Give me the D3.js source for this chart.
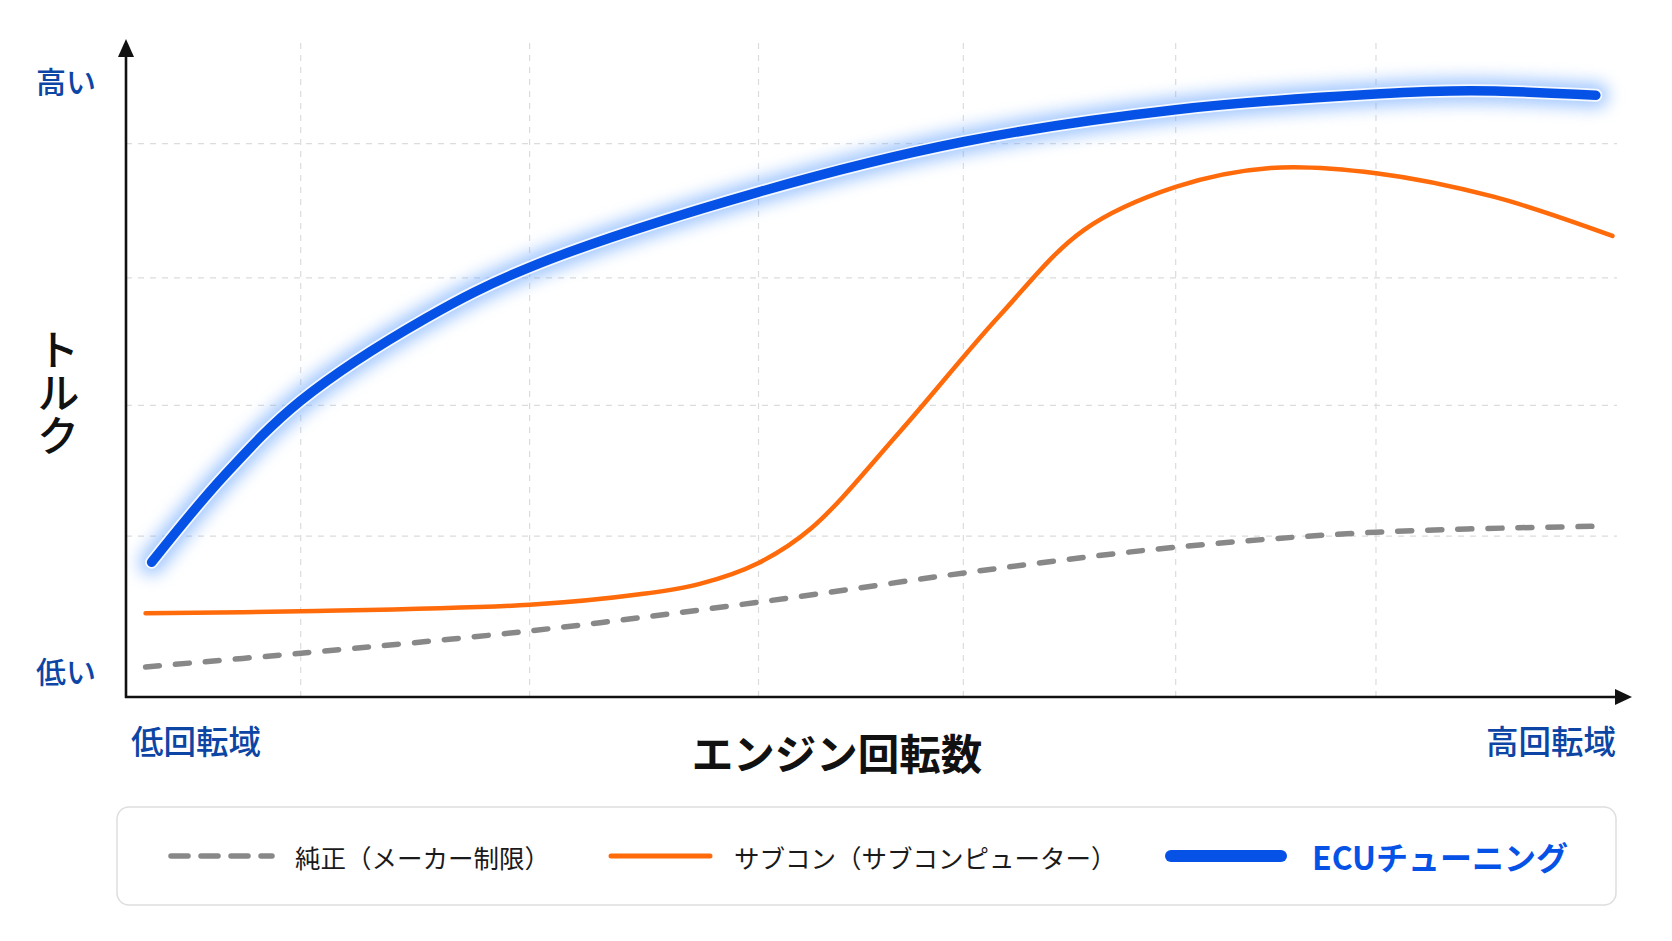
<!DOCTYPE html>
<html>
<head>
<meta charset="utf-8">
<script src="https://cdn.jsdelivr.net/npm/d3@7"></script>
<style>
  html, body { margin: 0; padding: 0; background: #ffffff; }
  svg { display: block; font-family: "Noto Sans CJK JP", "Noto Sans", sans-serif; }
</style>
</head>
<body>
<div id="chart"></div>
<script>
//////// DATA (x = engine speed 0-100, y = torque 0-100) ////////
const xGridValues = [11.6, 26.8, 42.0, 55.6, 69.7, 83.0]
const yGridValues = [24.6, 44.6, 64.1, 84.6]

const stockRpm    = [1.3, 11.6, 26.8, 42.0, 58.0, 69.7, 83.0, 97.6]
const stockTorque = [4.6, 6.7, 10.1, 14.5, 19.7, 22.9, 25.2, 26.1]

const subconRpm    = [1.3, 11.6, 26.8, 34.1, 38.1, 42.0, 45.5, 51.4, 58.0, 63.6, 69.7, 76.0, 83.0, 90.8, 98.7]
const subconTorque = [12.8, 13.1, 14.1, 15.7, 17.3, 20.5, 25.8, 40.6, 58.3, 71.4, 78.0, 80.9, 80.1, 76.5, 70.5]

const ecuRpm    = [1.7, 6.5, 11.6, 19.9, 26.8, 42.0, 55.6, 69.7, 83.0, 89.3, 97.6]
const ecuTorque = [20.6, 33.8, 45.3, 57.9, 65.7, 77.2, 84.9, 89.8, 92.2, 92.7, 92.0]

const legendLabels = ['純正（メーカー制限）', 'サブコン（サブコンピューター）', 'ECUチューニング']

//////// LAYOUT ////////
const width = 1672
const height = 941
const axisLeft = 126
const axisRight = 1632
const axisBottom = 697
const axisTop = 43
const gridRight = 1617

const svg = d3.select('#chart').append('svg')
    .attr('width', width)
    .attr('height', height)

svg.append('rect').attr('width', width).attr('height', height).attr('fill', '#ffffff')

const x = d3.scaleLinear().domain([0, 100]).range([axisLeft, axisRight])
const y = d3.scaleLinear().domain([0, 100]).range([axisBottom, axisTop])

const defs = svg.append('defs')
defs.append('filter').attr('id', 'glow')
    .attr('x', '-10%').attr('y', '-30%').attr('width', '120%').attr('height', '160%')
    .append('feGaussianBlur').attr('stdDeviation', 8)

//////// GRID ////////
const gridGroup = svg.append('g').attr('id', 'grid')
gridGroup.selectAll('.vGrid').data(xGridValues).enter().append('line')
    .attr('class', 'vGrid')
    .attr('x1', d => x(d)).attr('x2', d => x(d))
    .attr('y1', axisTop).attr('y2', axisBottom)
    .attr('stroke', '#dcdcdc').attr('stroke-width', 1.2)
    .attr('stroke-dasharray', '6,6')
gridGroup.selectAll('.hGrid').data(yGridValues).enter().append('line')
    .attr('class', 'hGrid')
    .attr('x1', axisLeft).attr('x2', gridRight)
    .attr('y1', d => y(d)).attr('y2', d => y(d))
    .attr('stroke', '#dcdcdc').attr('stroke-width', 1.2)
    .attr('stroke-dasharray', '6,6')

//////// LINES ////////
const line = d3.line()
    .x(d => x(d[0]))
    .y(d => y(d[1]))
    .curve(d3.curveCatmullRom.alpha(0.5))

const stockData = d3.zip(stockRpm, stockTorque)
const subconData = d3.zip(subconRpm, subconTorque)
const ecuData = d3.zip(ecuRpm, ecuTorque)

const lines = svg.append('g').attr('id', 'lines')

lines.append('path').attr('d', line(stockData))
    .attr('fill', 'none')
    .attr('stroke', '#888888')
    .attr('stroke-width', 5.5)
    .attr('stroke-linecap', 'round')
    .attr('stroke-dasharray', '14,16')

lines.append('path').attr('d', line(subconData))
    .attr('fill', 'none')
    .attr('stroke', '#ff6a0a')
    .attr('stroke-width', 4.5)
    .attr('stroke-linecap', 'round')

lines.append('path').attr('d', line(ecuData))
    .attr('fill', 'none')
    .attr('stroke', '#5c9dff')
    .attr('stroke-width', 26)
    .attr('stroke-linecap', 'round')
    .attr('opacity', 0.55)
    .attr('filter', 'url(#glow)')
lines.append('path').attr('d', line(ecuData))
    .attr('fill', 'none')
    .attr('stroke', '#ffffff')
    .attr('stroke-width', 13)
    .attr('stroke-linecap', 'round')
    .attr('opacity', 0.85)
lines.append('path').attr('d', line(ecuData))
    .attr('fill', 'none')
    .attr('stroke', '#0652e6')
    .attr('stroke-width', 9.5)
    .attr('stroke-linecap', 'round')

//////// AXES ////////
const axes = svg.append('g').attr('id', 'axes')
axes.append('line')
    .attr('x1', axisLeft).attr('x2', axisLeft)
    .attr('y1', axisBottom + 1).attr('y2', axisTop + 12)
    .attr('stroke', '#111').attr('stroke-width', 2.6)
axes.append('line')
    .attr('x1', axisLeft - 1).attr('x2', axisRight - 14)
    .attr('y1', axisBottom).attr('y2', axisBottom)
    .attr('stroke', '#111').attr('stroke-width', 2.6)
axes.append('path')
    .attr('d', `M${axisLeft},${axisTop - 4} L${axisLeft - 8},${axisTop + 14} L${axisLeft + 8},${axisTop + 14} Z`)
    .attr('fill', '#111')
axes.append('path')
    .attr('d', `M${axisRight},${axisBottom} L${axisRight - 17},${axisBottom - 8} L${axisRight - 17},${axisBottom + 8} Z`)
    .attr('fill', '#111')

//////// AXIS TEXT ////////
const blueText = '#0d45a5'
const texts = svg.append('g').attr('id', 'axisText')
texts.append('text').text('高い')
    .attr('x', 66).attr('y', 80)
    .attr('text-anchor', 'middle').attr('dominant-baseline', 'central')
    .attr('font-size', 30).attr('font-weight', 500).attr('fill', blueText)
texts.append('text').text('低い')
    .attr('x', 66).attr('y', 670)
    .attr('text-anchor', 'middle').attr('dominant-baseline', 'central')
    .attr('font-size', 30).attr('font-weight', 500).attr('fill', blueText)
texts.append('text').text('低回転域')
    .attr('x', 131).attr('y', 739)
    .attr('dominant-baseline', 'central')
    .attr('font-size', 32.5).attr('font-weight', 500).attr('fill', blueText)
texts.append('text').text('高回転域')
    .attr('x', 1616).attr('y', 739)
    .attr('text-anchor', 'end').attr('dominant-baseline', 'central')
    .attr('font-size', 32.5).attr('font-weight', 500).attr('fill', blueText)
texts.append('text').text('エンジン回転数')
    .attr('x', 837).attr('y', 752)
    .attr('text-anchor', 'middle').attr('dominant-baseline', 'central')
    .attr('font-size', 41.5).attr('font-weight', 700).attr('fill', '#111')
texts.append('text')
    .attr('x', 58).attr('y', 393)
    .attr('text-anchor', 'middle').attr('dominant-baseline', 'central')
    .attr('writing-mode', 'vertical-rl')
    .attr('font-size', 43).attr('font-weight', 500).attr('fill', '#111')
    .text('トルク')

//////// LEGEND ////////
const legend = svg.append('g').attr('id', 'legend')
legend.append('rect')
    .attr('x', 117).attr('y', 807)
    .attr('width', 1499).attr('height', 98)
    .attr('rx', 12)
    .attr('fill', '#ffffff')
    .attr('stroke', '#dedede').attr('stroke-width', 1.5)

const legendY = 856
legend.append('line')
    .attr('x1', 171).attr('x2', 272).attr('y1', legendY).attr('y2', legendY)
    .attr('stroke', '#888888').attr('stroke-width', 5.5)
    .attr('stroke-linecap', 'round').attr('stroke-dasharray', '17,13')
legend.append('text').text(legendLabels[0])
    .attr('x', 295).attr('y', legendY)
    .attr('dominant-baseline', 'central')
    .attr('font-size', 25.5).attr('fill', '#1a1a1a')

legend.append('line')
    .attr('x1', 611).attr('x2', 710).attr('y1', legendY).attr('y2', legendY)
    .attr('stroke', '#ff6a0a').attr('stroke-width', 5)
    .attr('stroke-linecap', 'round')
legend.append('text').text(legendLabels[1])
    .attr('x', 734).attr('y', legendY)
    .attr('dominant-baseline', 'central')
    .attr('font-size', 25.5).attr('fill', '#1a1a1a')

legend.append('line')
    .attr('x1', 1171).attr('x2', 1281).attr('y1', legendY).attr('y2', legendY)
    .attr('stroke', '#0652e6').attr('stroke-width', 12)
    .attr('stroke-linecap', 'round')
legend.append('text').text(legendLabels[2])
    .attr('x', 1312).attr('y', legendY)
    .attr('dominant-baseline', 'central')
    .attr('font-size', 32).attr('font-weight', 700).attr('fill', '#0652e6')
</script>
</body>
</html>
